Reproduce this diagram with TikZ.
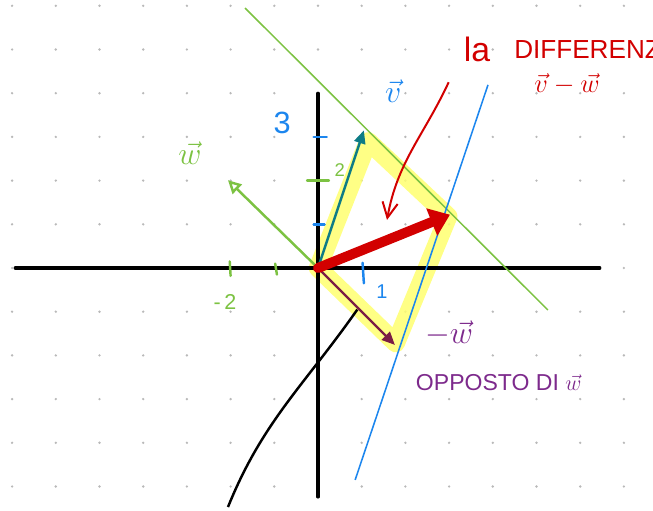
\documentclass[tikz,border=0pt]{standalone}
\usepackage{fontspec}
\setmainfont{Liberation Sans}
\usepackage{amsmath}
\usetikzlibrary{arrows.meta}

\definecolor{vgreen}{HTML}{7CC242}
\definecolor{vblue}{HTML}{1C86EE}
\definecolor{vteal}{HTML}{0E7C86}
\definecolor{vred}{HTML}{D20000}
\definecolor{vpurple}{HTML}{7D2A8C}
\definecolor{vmaroon}{HTML}{7B1D45}
\definecolor{hilite}{HTML}{FFFF70}

\begin{document}
\begin{tikzpicture}[
  font=\fontsize{17}{19}\selectfont,
  axis/.style={line width=2pt, line cap=round},
  vec/.style={line width=1.6pt, -{Triangle[length=3mm, width=2.6mm]}},
  guide/.style={line width=1pt},
  tick/.style={line width=1.6pt, line cap=round},
  lbl/.style={inner sep=1pt},
  veclbl/.style={lbl, font=\fontsize{22}{24}\selectfont},
  ]
  \useasboundingbox (-7.277,-5.538) rectangle (7.666,6.133);

  %% Dot grid
  \foreach \gx in {-7,...,7}
    \foreach \gy in {-5,...,6}
      \fill[gray!55] (\gx,\gy) circle (0.03);

  %% Points: origin, vectors and their difference
  \coordinate (O)  at (0,0);
  \coordinate (V)  at (1.05,3.15);
  \coordinate (W)  at (-2.06,2.01);
  \coordinate (mW) at (1.76,-1.76);
  \coordinate (D)  at (3.02,1.22);

  %% Highlighted parallelogram
  \draw[hilite, opacity=0.85, line width=0.42cm, line join=round]
    (O) -- (1.15,2.9) -- (2.98,1.18) -- (1.78,-1.72) -- cycle;

  %% Axes
  \coordinate (xl) at (-6.93,0);
  \coordinate (xr) at (6.45,0);
  \coordinate (yt) at (0,4.0);
  \coordinate (yb) at (0,-5.24);
  \draw[axis] (xl) -- (xr);
  \draw[axis] (yb) -- (yt);

  %% Ticks
  \draw[tick, vblue]  (-0.1,1) -- (0.15,1);
  \draw[tick, vgreen] (-0.25,2) -- (0.25,2);
  \draw[tick, vblue]  (-0.1,3) -- (0.2,3);
  \draw[tick, vgreen] (-2.02,0.15) -- (-2.0,-0.18);
  \draw[tick, vgreen] (-0.98,0.1) -- (-0.94,-0.15);
  \draw[tick, vblue]  (1.02,0.12) -- (1.05,-0.35);

  %% Parallel guides
  \coordinate (g1) at (-1.67,5.95);
  \coordinate (g2) at (5.26,-0.96);
  \coordinate (b1) at (3.89,4.19);
  \coordinate (b2) at (0.85,-4.85);
  \draw[guide, vgreen] (g1) -- (g2);
  \draw[guide, vblue]  (b1) -- (b2);

  %% Black curve
  \coordinate (c0) at (0.9,-0.95);
  \coordinate (c1) at (-2.06,-5.47);
  \draw[line width=1.6pt] (c1) to[out=68, in=-125] (c0);

  %% Vectors
  \draw[vec, vgreen, -{Triangle[open, length=3mm, width=3mm]}] (O) -- (W);
  \draw[vec, vteal]   (O) -- (V);
  \draw[vec, vmaroon] (O) -- (mW);
  \draw[vred, line width=6.5pt, line cap=round,
        -{Triangle[length=4.5mm, width=6.5mm]}] (O) -- (D);

  %% Labels
  \node[veclbl, vblue]  (lv)   at (1.72,4.05)  {$\vec{v}$};
  \node[lbl, vblue, font=\fontsize{20}{22}\selectfont] (l3) at (-0.82,3.32) {3};
  \node[lbl, vgreen, font=\fontsize{12}{14}\selectfont] (l2) at (0.5,2.24) {2};
  \node[veclbl, vgreen] (lw)   at (-2.93,2.62) {$\vec{w}$};
  \node[lbl, vblue, font=\fontsize{13}{15}\selectfont] (l1) at (1.46,-0.55) {1};
  \node[lbl, vgreen, font=\fontsize{14}{16}\selectfont] (lm2) at (-2.13,-0.78) {-\,2};
  \node[veclbl, vpurple] (lmw) at (3.0,-1.5) {$-\vec{w}$};
  \node[lbl, vpurple, anchor=west, font=\fontsize{15}{17}\selectfont] (lopp)
        at (2.2,-2.63) {OPPOSTO DI $\vec{w}$};

  %% Red caption and pointer
  \node[lbl, vred, font=\fontsize{22}{24}\selectfont] (lla) at (3.64,5.0) {la};
  \node[lbl, vred, anchor=west] (ldiff) at (4.45,5.0) {DIFFERENZA};
  \node[lbl, vred, font=\fontsize{19}{21}\selectfont] (ldv) at (5.7,4.2) {$\vec{v}-\vec{w}$};
  \coordinate (p0) at (2.99,4.25);
  \coordinate (p1) at (1.58,1.10);
  \draw[vred, line width=1.3pt, -{Straight Barb[length=3.5mm, width=3.5mm]}]
    (p0) to[out=-115, in=80] (p1);
\end{tikzpicture}
\end{document}
